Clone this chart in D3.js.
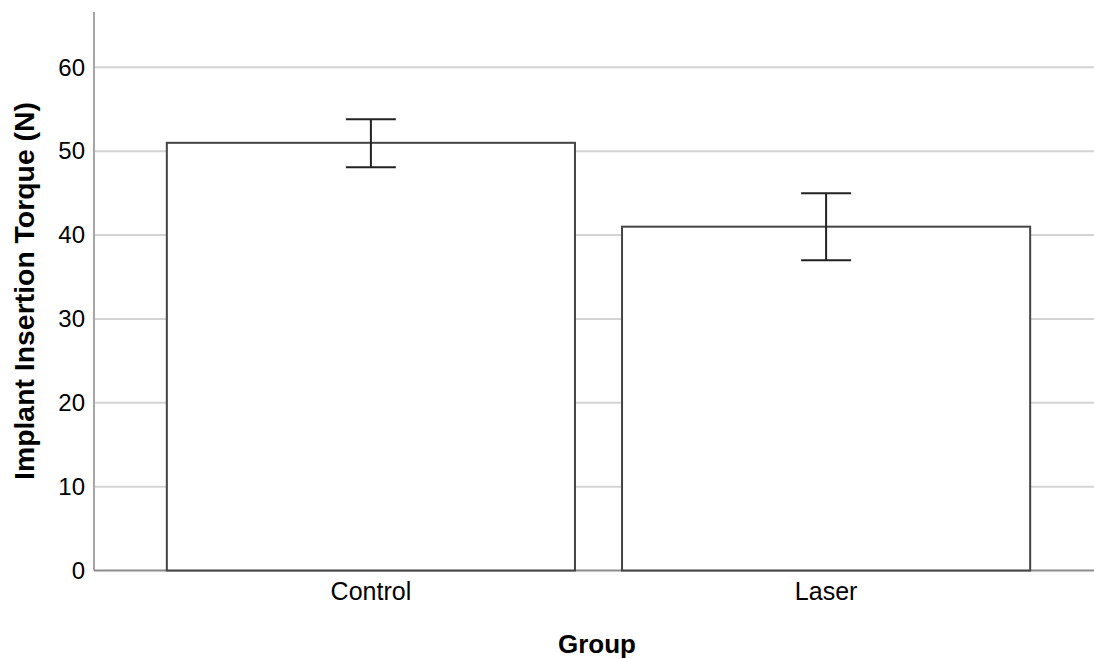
<!DOCTYPE html>
<html>
<head>
<meta charset="utf-8" />
<style>
body { margin:0; background:#fff; }
svg { display:block; font-family: "Liberation Sans", Arial, sans-serif; }
.tick text { fill:#000; }
</style>
</head>
<body>
<svg id="chart" width="1094" height="659"></svg>
<script src="https://cdn.jsdelivr.net/npm/d3@7"></script>
<script>

// data
var groups = ["Control", "Laser"];
var means = [51.0, 41.0];
var errLow = [48.1, 37.0];
var errHigh = [53.8, 45.0];
var yTicks = [0, 10, 20, 30, 40, 50, 60];

var svg = d3.select("#chart");
var plotLeft = 94, plotBottom = 570.5, plotTop = 12, plotRight = 1094;

var y = d3.scaleLinear().domain([0, 66.6]).range([plotBottom, plotTop]);
var x = d3.scaleBand().domain(groups).range([plotLeft, 1103])
	.paddingInner(0.1034).paddingOuter(0.16);

// gridlines
svg.append("g").selectAll("line")
	.data(yTicks.filter(function(d) { return d > 0; }))
	.enter().append("line")
	.attr("x1", plotLeft).attr("x2", plotRight)
	.attr("y1", function(d) { return y(d); })
	.attr("y2", function(d) { return y(d); })
	.attr("stroke", "#d4d4d4").attr("stroke-width", 2);

// y axis
var yAxis = svg.append("g")
	.attr("transform", "translate(" + plotLeft + ",0)")
	.call(d3.axisLeft(y).tickValues(yTicks).tickSize(0).tickPadding(9));
yAxis.select(".domain").remove();
yAxis.selectAll("text").style("font-size", "24px");
svg.append("line")
	.attr("x1", plotLeft).attr("x2", plotLeft).attr("y1", plotTop).attr("y2", plotBottom)
	.attr("stroke", "#a6a6a6").attr("stroke-width", 2);

// x axis line
svg.append("line")
	.attr("x1", plotLeft).attr("x2", plotRight).attr("y1", plotBottom).attr("y2", plotBottom)
	.attr("stroke", "#8c8c8c").attr("stroke-width", 2);

// bars
svg.append("g").selectAll("rect")
	.data(groups)
	.enter().append("rect")
	.attr("x", function(d) { return x(d); })
	.attr("width", x.bandwidth())
	.attr("y", function(d, i) { return y(means[i]); })
	.attr("height", function(d, i) { return y(0) - y(means[i]); })
	.attr("fill", "#fff")
	.attr("stroke", "#444").attr("stroke-width", 2);

// error bars
var capW = 25;
var eb = svg.append("g").attr("stroke", "#222").attr("stroke-width", 2);
groups.forEach(function(g, i) {
	var cx = x(g) + x.bandwidth() / 2;
	eb.append("line").attr("x1", cx).attr("x2", cx)
		.attr("y1", y(errLow[i])).attr("y2", y(errHigh[i]));
	eb.append("line").attr("x1", cx - capW).attr("x2", cx + capW)
		.attr("y1", y(errHigh[i])).attr("y2", y(errHigh[i]));
	eb.append("line").attr("x1", cx - capW).attr("x2", cx + capW)
		.attr("y1", y(errLow[i])).attr("y2", y(errLow[i]));
});

// x tick labels
var xAxis = svg.append("g")
	.attr("transform", "translate(0," + plotBottom + ")")
	.call(d3.axisBottom(x).tickSize(0).tickPadding(12));
xAxis.select(".domain").remove();
xAxis.selectAll("text").style("font-size", "25px");

// axis titles
svg.append("text")
	.attr("x", 597).attr("y", 653)
	.attr("text-anchor", "middle")
	.style("font-size", "26px").style("font-weight", "bold")
	.text("Group");

svg.append("text")
	.attr("transform", "translate(34,291) rotate(-90)")
	.attr("text-anchor", "middle")
	.style("font-size", "28.4px").style("font-weight", "bold")
	.text("Implant Insertion Torque (N)");

</script>
</body>
</html>
